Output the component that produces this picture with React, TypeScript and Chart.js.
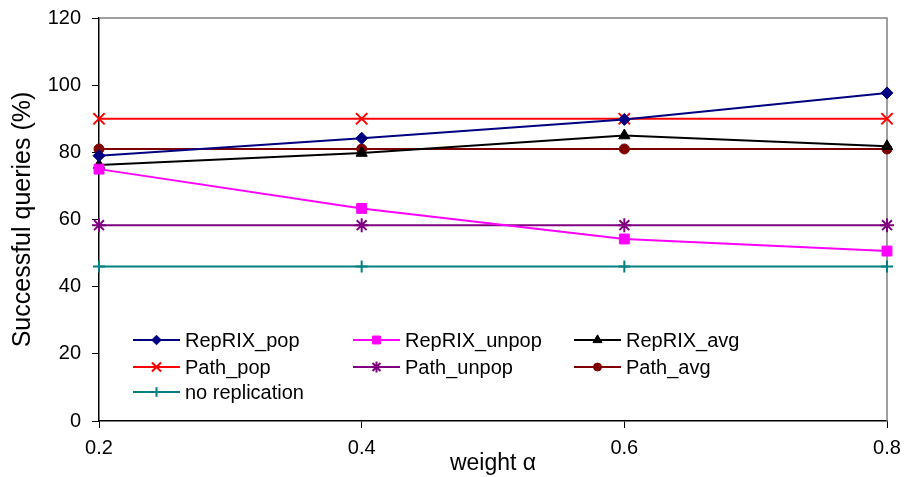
import React, { useEffect, useRef } from "react";
import { Chart, registerables } from "chart.js";
import { drawPoint } from "chart.js/helpers";

Chart.register(...registerables);

const alphaValues = [0.2, 0.4, 0.6, 0.8];
const yMin = 0;
const yMax = 120;
const yStep = 20;

const seriesNames = [
  "RepRIX_pop",
  "RepRIX_unpop",
  "RepRIX_avg",
  "Path_pop",
  "Path_unpop",
  "Path_avg",
  "no replication",
];
const repRixPop = [79, 84.2, 89.8, 97.7];
const repRixUnpop = [75, 63.3, 54.2, 50.6];
const repRixAvg = [76.2, 79.8, 85, 81.8];
const pathPop = [90, 90, 90, 90];
const pathUnpop = [58.3, 58.3, 58.3, 58.3];
const pathAvg = [81, 81, 81, 81];
const noReplication = [46, 46, 46, 46];

const seriesValues = [repRixPop, repRixUnpop, repRixAvg, pathPop, pathUnpop, pathAvg, noReplication];

const styles = [
  { color: "#000080", pointStyle: "rectRot", radius: 6, bw: 1 },
  { color: "#FF00FF", pointStyle: "rect", radius: 7, bw: 1 },
  { color: "#000000", pointStyle: "triangle", radius: 6.5, bw: 1 },
  { color: "#FF0000", pointStyle: "crossRot", radius: 8, bw: 2 },
  { color: "#800080", pointStyle: "star", radius: 7, bw: 2 },
  { color: "#800000", pointStyle: "circle", radius: 5, bw: 1 },
  { color: "#008080", pointStyle: "cross", radius: 6, bw: 2 },
];

const FONT = "'Liberation Sans', Arial, sans-serif";

const frameAndLegend = {
  id: "frameAndLegend",
  beforeDatasetsDraw(chart: any) {
    const { ctx, chartArea } = chart;
    ctx.save();
    ctx.strokeStyle = "#808080";
    ctx.lineWidth = 1.5;
    ctx.beginPath();
    ctx.moveTo(chartArea.left, chartArea.top);
    ctx.lineTo(chartArea.right, chartArea.top);
    ctx.lineTo(chartArea.right, chartArea.bottom);
    ctx.stroke();
    ctx.restore();
  },
  afterDatasetsDraw(chart: any) {
    const { ctx } = chart;
    const colX = [133, 353, 574];
    const rowY = [340, 367, 392];
    ctx.save();
    chart.data.datasets.forEach((ds: any, i: number) => {
      const x = colX[i % 3];
      const y = rowY[Math.floor(i / 3)];
      const st = styles[i];
      ctx.strokeStyle = st.color;
      ctx.fillStyle = st.color;
      ctx.lineWidth = 2;
      ctx.beginPath();
      ctx.moveTo(x, y);
      ctx.lineTo(x + 47, y);
      ctx.stroke();
      ctx.lineWidth = st.bw;
      drawPoint(ctx, { pointStyle: st.pointStyle, radius: st.radius * 0.8, rotation: 0, borderWidth: st.bw }, x + 23.5, y);
      ctx.fillStyle = "#000000";
      ctx.font = `20px ${FONT}`;
      ctx.textBaseline = "middle";
      ctx.textAlign = "left";
      ctx.fillText(ds.label, x + 52, y + 1);
    });
    ctx.restore();
  },
};

export default function App() {
  const canvasRef = useRef<HTMLCanvasElement | null>(null);

  useEffect(() => {
    document.body.style.margin = "0";
    const canvas = canvasRef.current;
    if (!canvas) return;
    const datasets = seriesNames.map((name, i) => ({
      label: name,
      data: alphaValues.map((a, j) => ({ x: a, y: seriesValues[i][j] })),
      borderColor: styles[i].color,
      backgroundColor: styles[i].color,
      borderWidth: 2,
      pointStyle: styles[i].pointStyle,
      pointRadius: styles[i].radius,
      pointBorderWidth: styles[i].bw,
      pointBackgroundColor: styles[i].color,
      pointBorderColor: styles[i].color,
      tension: 0,
      clip: false as any,
    }));

    const chart = new Chart(canvas, {
      type: "line",
      data: { datasets },
      options: {
        animation: false,
        responsive: false,
        devicePixelRatio: 1,
        layout: { padding: { top: 18, right: 20, left: 0, bottom: 0 } },
        plugins: {
          legend: { display: false },
          tooltip: { enabled: false },
        },
        scales: {
          x: {
            type: "linear",
            min: alphaValues[0],
            max: alphaValues[alphaValues.length - 1],
            afterBuildTicks: (scale: any) => {
              scale.ticks = alphaValues.map((v) => ({ value: v }));
            },
            afterFit: (scale: any) => {
              scale.height = 56;
              scale.paddingLeft = 0;
              scale.paddingRight = 0;
            },
            ticks: {
              color: "#000",
              font: { family: FONT, size: 20 },
              padding: 8,
              maxRotation: 0,
              autoSkip: false,
              callback: (v: any) => Number(v).toFixed(1),
            },
            grid: {
              display: true,
              drawOnChartArea: false,
              drawTicks: true,
              tickLength: 7,
              color: "#000",
              lineWidth: 1,
            },
            border: { color: "#000", width: 1.5 },
            title: {
              display: true,
              text: "weight α",
              color: "#000",
              font: { family: FONT, size: 23 },
              padding: { top: 0, bottom: 0 },
            },
          },
          y: {
            min: yMin,
            max: yMax,
            afterFit: (scale: any) => {
              scale.width = 99;
              scale.paddingTop = 0;
              scale.paddingBottom = 0;
            },
            ticks: {
              stepSize: yStep,
              color: "#000",
              font: { family: FONT, size: 20 },
              padding: 11,
            },
            grid: {
              display: true,
              drawOnChartArea: false,
              drawTicks: true,
              tickLength: 7,
              color: "#000",
              lineWidth: 1,
            },
            border: { color: "#000", width: 1.5 },
            title: {
              display: true,
              text: "Successful queries (%)",
              color: "#000",
              font: { family: FONT, size: 25 },
              padding: { top: 8, bottom: 0 },
            },
          },
        },
      },
      plugins: [frameAndLegend],
    });
    return () => chart.destroy();
  }, []);

  return (
    <div style={{ width: 907, height: 477, position: "relative" }}>
      <canvas ref={canvasRef} width={907} height={477} style={{ display: "block" }} />
    </div>
  );
}
